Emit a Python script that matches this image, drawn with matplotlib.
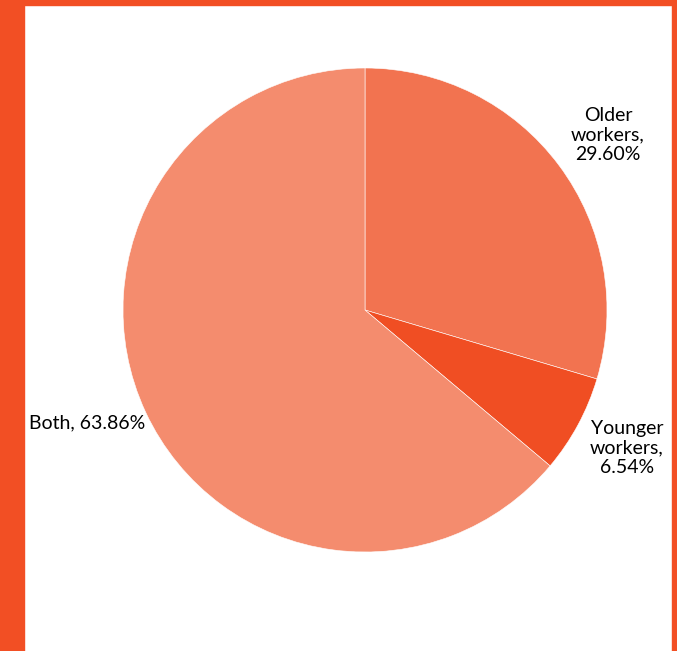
import matplotlib.pyplot as plt
from matplotlib.patches import Rectangle

# group shares of the workforce
etiquetas = ['Older\nworkers,\n29.60%', 'Younger\nworkers,\n6.54%', 'Both, 63.86%']
valores = [29.60, 6.54, 63.86]
colores = ['#F27350', '#F04E23', '#F48C6E']

plt.rcParams['font.family'] = ['Lato', 'DejaVu Sans']

W, H = 677, 651
fig = plt.figure(figsize=(W / 100, H / 100), dpi=100)

# orange frame: left, top and right strips
naranja = '#F24F24'
for x, y, w, h in [(0, 0, 24, H), (0, H - 5, W, 5), (W - 5, 0, 5, H)]:
  fig.patches.append(Rectangle((x / W, y / H), w / W, h / H,
                               transform=fig.transFigure, color=naranja, zorder=0))

# pie centred at (365, 310) px with radius 242 px
cx, cy, r = 365, 310, 242
lim = 1.05
ax = fig.add_axes([(cx - lim * r) / W, (H - cy - lim * r) / H, 2 * lim * r / W, 2 * lim * r / H])

ax.pie(valores, colors=colores, startangle=90, counterclock=False, radius=1,
       wedgeprops=dict(edgecolor='white', linewidth=0.4))
# pie() resets the limits, so set them afterwards
ax.set_xlim(-lim, lim)
ax.set_ylim(-lim, lim)
ax.set_aspect('equal')
ax.axis('off')

# label positions in pie-radius units
pos = [((608 - cx) / r, (cy - 135) / r, 'center'),
       ((627 - cx) / r, (cy - 448) / r, 'center'),
       ((145 - cx) / r, (cy - 423) / r, 'right')]
for txt, (x, y, ha) in zip(etiquetas, pos):
  ax.text(x, y, txt, ha=ha, va='center', fontsize=14, color='black', linespacing=1.2)

fig.savefig('out.png', dpi=100)
